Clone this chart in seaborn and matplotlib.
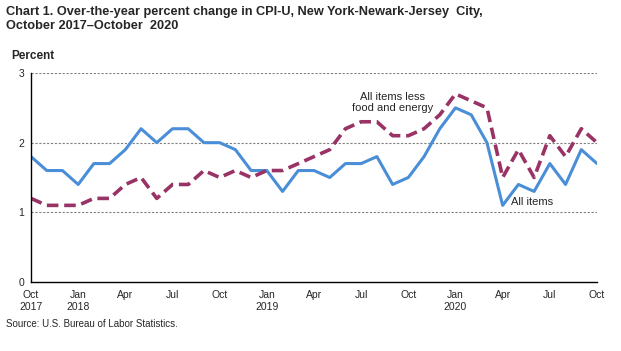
import matplotlib
matplotlib.use('Agg')
import matplotlib.pyplot as plt
import pandas as pd
import numpy as np
import seaborn as sns

# Datos: Oct 2017 - Oct 2020
months = pd.date_range('2017-10-01', '2020-10-01', freq='MS')
all_items = [1.8, 1.6, 1.6, 1.4, 1.7, 1.7, 1.9, 2.2, 2.0, 2.2, 2.2, 2.0, 2.0,
             1.9, 1.6, 1.6, 1.3, 1.6, 1.6, 1.5, 1.7, 1.7, 1.8, 1.4, 1.5,
             1.8, 2.2, 2.5, 2.4, 2.0, 1.1, 1.4, 1.3, 1.7, 1.4, 1.9, 1.7]
core = [1.2, 1.1, 1.1, 1.1, 1.2, 1.2, 1.4, 1.5, 1.2, 1.4, 1.4, 1.6, 1.5,
        1.6, 1.5, 1.6, 1.6, 1.7, 1.8, 1.9, 2.2, 2.3, 2.3, 2.1, 2.1,
        2.2, 2.4, 2.7, 2.6, 2.5, 1.5, 1.9, 1.5, 2.1, 1.8, 2.2, 2.0]
tick_labels = ['Oct\n2017', 'Jan\n2018', 'Apr', 'Jul', 'Oct', 'Jan\n2019', 'Apr',
               'Jul', 'Oct', 'Jan\n2020', 'Apr', 'Jul', 'Oct']

df = pd.DataFrame({'i': np.arange(len(months)), 'all': all_items, 'core': core})

sns.set_style('white')
plt.rcParams['font.family'] = ['Liberation Sans', 'DejaVu Sans']

fig = plt.figure(figsize=(6.21, 3.51), dpi=100)
ax = fig.add_axes([31/621, 1-282/351, (597-31)/621, (282-73)/351])

sns.lineplot(data=df, x='i', y='all', ax=ax, color='#4A8ED8', lw=2.2)
sns.lineplot(data=df, x='i', y='core', ax=ax, color='#993366', lw=2.6,
             linestyle=(0, (3.2, 1.6)))

ax.set_xlim(0, 36)
ax.set_ylim(0, 3)
ax.set_yticks([0, 1, 2, 3])
ax.set_xticks(np.arange(37), minor=True)
ax.set_xticks(np.arange(0, 37, 3))
ax.set_xticklabels(tick_labels)
ax.tick_params(axis='both', labelsize=7.5, length=4, width=0.8, direction='out',
               color='black', pad=2)
ax.tick_params(axis='x', which='minor', length=4, width=0.8, color='black')
ax.tick_params(axis='y', length=3)
ax.set_xlabel('')
ax.set_ylabel('')
for y in [1, 2, 3]:
    ax.axhline(y, color='#808080', lw=0.8, ls=(0, (2, 1.5)), zorder=0)
for s in ['top', 'right']:
    ax.spines[s].set_visible(False)
for s in ['left', 'bottom']:
    ax.spines[s].set_color('black')
    ax.spines[s].set_linewidth(1)

ax.text(23.0, 2.42, 'All items less\nfood and energy', fontsize=8,
        ha='center', va='bottom', linespacing=1.15)
ax.text(31.9, 1.15, 'All items', fontsize=8, ha='center', va='center')

fig.text(6/621, 1-6/351, 'Chart 1. Over-the-year percent change in CPI-U, New York-Newark-Jersey  City,\nOctober 2017\u2013October  2020',
         fontsize=9.2, fontweight='bold', va='top', ha='left', linespacing=1.2)
fig.text(11/621, 1-56/351, 'Percent', fontsize=8.5, fontweight='bold', va='center', ha='left')
fig.text(6/621, 1-324/351, 'Source: U.S. Bureau of Labor Statistics.', fontsize=7,
         va='center', ha='left')

fig.savefig('out.png', dpi=100)
